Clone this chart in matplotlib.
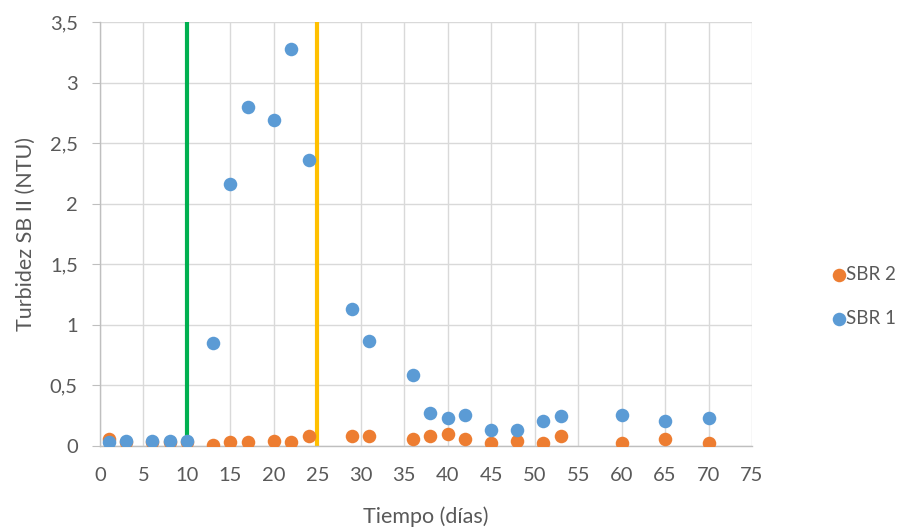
import numpy as np
import matplotlib.pyplot as plt

plt.rcParams['font.family'] = ['Lato', 'DejaVu Sans']

# datos
dias_sbr1 = [1, 3, 6, 8, 10, 13, 15, 17, 20, 22, 24, 29, 31, 36, 38, 40, 42, 45, 48, 51, 53, 60, 65, 70]
turb_sbr1 = [0.03, 0.045, 0.045, 0.045, 0.045, 0.85, 2.16, 2.80, 2.69, 3.28, 2.36, 1.13, 0.87, 0.59,
             0.27, 0.23, 0.26, 0.13, 0.13, 0.21, 0.245, 0.26, 0.21, 0.23]
dias_sbr2 = [1, 3, 6, 8, 10, 13, 15, 17, 20, 22, 24, 29, 31, 36, 38, 40, 42, 45, 48, 51, 53, 60, 65, 70]
turb_sbr2 = [0.055, 0.03, 0.03, 0.03, 0.03, 0.01, 0.03, 0.03, 0.045, 0.03, 0.08, 0.08, 0.08, 0.06,
             0.08, 0.095, 0.06, 0.027, 0.044, 0.027, 0.08, 0.027, 0.06, 0.027]
lineas_fase = [10, 25]
colores_fase = ['#00B050', '#FFC000']

gris = '#595959'
fs_tick = 14.5
fs_lab = 15.5
fig = plt.figure(figsize=(9.04, 5.29), dpi=100)
ax = fig.add_axes([0.1106, 0.1569, 0.7213, 0.8015])

ax.set_xlim(0, 75)
ax.set_ylim(0, 3.5)
ax.set_xticks(np.arange(0, 76, 5))
ax.set_yticks(np.arange(0, 3.51, 0.5))
ax.set_yticklabels([f'{v:g}'.replace('.', ',') for v in np.arange(0, 3.51, 0.5)])
ax.grid(True, color='#D9D9D9', linewidth=1)
ax.set_axisbelow(True)

for s in ['top', 'right']:
    ax.spines[s].set_visible(False)
for s in ['left', 'bottom']:
    ax.spines[s].set_color('#BFBFBF')
    ax.spines[s].set_linewidth(1)
ax.tick_params(axis='y', length=6, color='#BFBFBF', colors=gris, labelsize=fs_tick, pad=10)
ax.tick_params(axis='x', length=0, colors=gris, labelsize=fs_tick, pad=15)

for xv, c in zip(lineas_fase, colores_fase):
    ax.plot([xv, xv], [0, 3.5], color=c, linewidth=3, zorder=2)

s2 = ax.scatter(dias_sbr2, turb_sbr2, s=95, color='#ED7D31', zorder=3, label='SBR 2', linewidths=0)
s1 = ax.scatter(dias_sbr1, turb_sbr1, s=95, color='#5B9BD5', zorder=4, label='SBR 1', linewidths=0)

ax.set_xlabel('Tiempo (días)', color=gris, fontsize=fs_lab, labelpad=16)
ax.set_ylabel('Turbidez SB II (NTU)', color=gris, fontsize=fs_lab, labelpad=10)

fig.legend(handles=[s2, s1], loc='center left', bbox_to_anchor=(0.907, 0.44), frameon=False,
           fontsize=13.5, labelcolor=gris, handletextpad=-0.1, labelspacing=1.45, borderpad=0,
           handlelength=1.0)

plt.savefig('out.png', dpi=100)
